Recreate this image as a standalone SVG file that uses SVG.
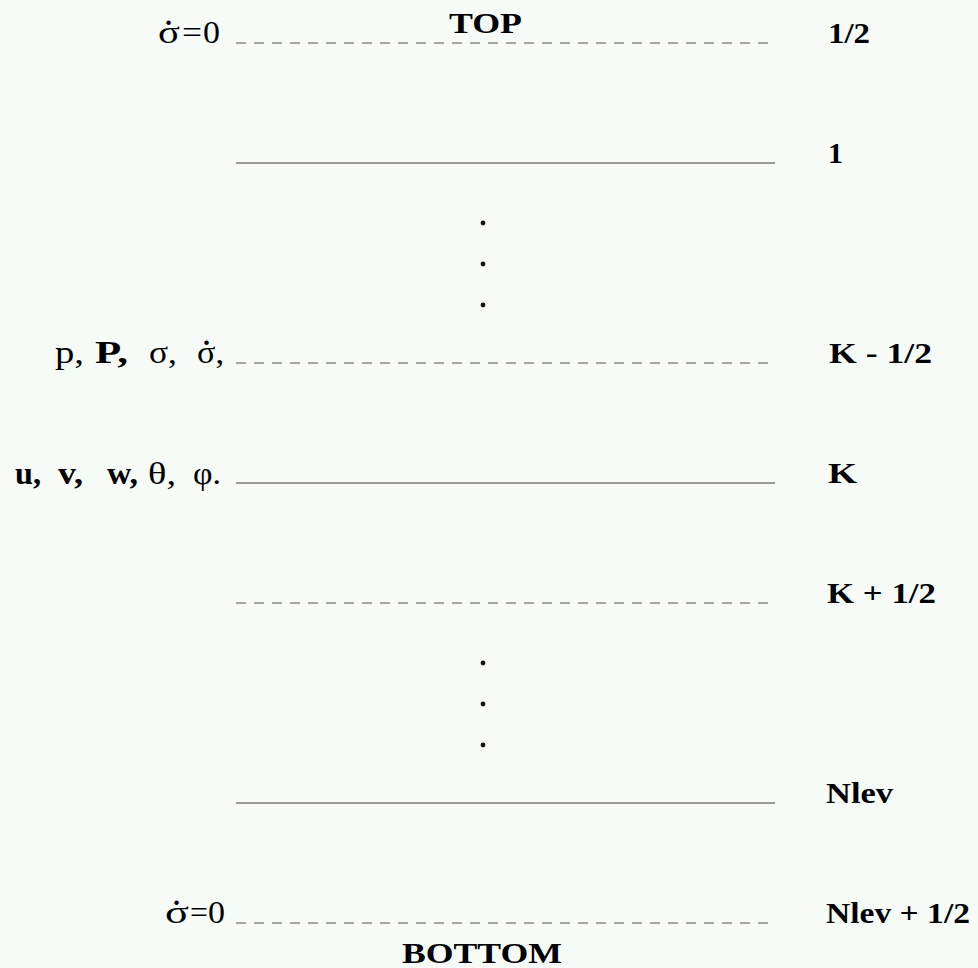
<svg xmlns="http://www.w3.org/2000/svg" width="978" height="968" viewBox="0 0 978 968">
<style>
.bg{fill:#f6fbf8}
.solid{stroke:#7a7a7a;stroke-width:1.6;fill:none}
.dash{stroke:#8a8a8a;stroke-width:1.6;fill:none;stroke-dasharray:10 8}
text{font-family:"Liberation Serif","Times New Roman",serif;font-size:30px;fill:#000}
.b{font-weight:bold}
.lab{font-size:31px}
.dot{fill:#111}
.acc{font-weight:bold;font-size:28px}
</style>
<rect class="bg" x="0" y="0" width="978" height="968"/>
<g id="levels">
<line class="dash" x1="236" y1="43" x2="773" y2="43"/>
<line class="solid" x1="236" y1="163" x2="775" y2="163"/>
<line class="dash" x1="236" y1="363" x2="773" y2="363"/>
<line class="solid" x1="236" y1="483" x2="775" y2="483"/>
<line class="dash" x1="236" y1="603" x2="773" y2="603"/>
<line class="solid" x1="236" y1="803" x2="775" y2="803"/>
<line class="dash" x1="236" y1="923" x2="773" y2="923"/>
</g>
<g id="dots">
<circle class="dot" cx="483" cy="223" r="2.4"/>
<circle class="dot" cx="483" cy="264" r="2.4"/>
<circle class="dot" cx="483" cy="305" r="2.4"/>
<circle class="dot" cx="483" cy="663" r="2.4"/>
<circle class="dot" cx="483" cy="704" r="2.4"/>
<circle class="dot" cx="483" cy="745" r="2.4"/>
</g>
<g id="top-bottom">
<text class="b" x="449" y="33" textLength="73" lengthAdjust="spacingAndGlyphs">TOP</text>
<text class="b" x="402" y="963" textLength="160" lengthAdjust="spacingAndGlyphs">BOTTOM</text>
</g>
<g id="top-label">
<text class="lab" y="43"><tspan x="158" textLength="22" lengthAdjust="spacingAndGlyphs">σ</tspan><tspan class="acc" x="165" dy="-18">.</tspan><tspan x="182" dy="18" textLength="20" lengthAdjust="spacingAndGlyphs">=</tspan><tspan x="203" textLength="17" lengthAdjust="spacingAndGlyphs">0</tspan></text>
</g>
<g id="half-level-vars">
<text class="lab" y="363"><tspan x="55" textLength="29" lengthAdjust="spacingAndGlyphs">p,</tspan><tspan class="b" x="95" textLength="33" lengthAdjust="spacingAndGlyphs">P,</tspan><tspan x="149" textLength="28" lengthAdjust="spacingAndGlyphs">σ,</tspan><tspan x="197" textLength="27" lengthAdjust="spacingAndGlyphs">σ,</tspan><tspan class="acc" x="203" dy="-18">.</tspan></text>
</g>
<g id="full-level-vars">
<text class="lab" y="484"><tspan class="b" x="15" textLength="26" lengthAdjust="spacingAndGlyphs">u,</tspan><tspan class="b" x="58" textLength="25" lengthAdjust="spacingAndGlyphs">v,</tspan><tspan class="b" x="107" textLength="31" lengthAdjust="spacingAndGlyphs">w,</tspan><tspan x="148" textLength="28" lengthAdjust="spacingAndGlyphs">θ,</tspan><tspan x="193" textLength="28" lengthAdjust="spacingAndGlyphs">φ.</tspan></text>
</g>
<g id="bottom-label">
<text class="lab" y="923"><tspan x="165" textLength="24" lengthAdjust="spacingAndGlyphs">σ</tspan><tspan class="acc" x="173" dy="-18">.</tspan><tspan x="190" dy="18" textLength="18" lengthAdjust="spacingAndGlyphs">=</tspan><tspan x="208" textLength="17" lengthAdjust="spacingAndGlyphs">0</tspan></text>
</g>
<g id="right-labels">
<text class="b" x="828" y="43" textLength="42" lengthAdjust="spacingAndGlyphs">1/2</text>
<text class="b" x="828" y="163">1</text>
<text class="b" x="829" y="363" textLength="103" lengthAdjust="spacingAndGlyphs">K - 1/2</text>
<text class="b" x="828" y="483" textLength="29" lengthAdjust="spacingAndGlyphs">K</text>
<text class="b" x="827" y="603" textLength="109" lengthAdjust="spacingAndGlyphs">K + 1/2</text>
<text class="b" x="826" y="803" textLength="67" lengthAdjust="spacingAndGlyphs">Nlev</text>
<text class="b" x="826" y="923" textLength="144" lengthAdjust="spacingAndGlyphs">Nlev + 1/2</text>
</g>
</svg>
